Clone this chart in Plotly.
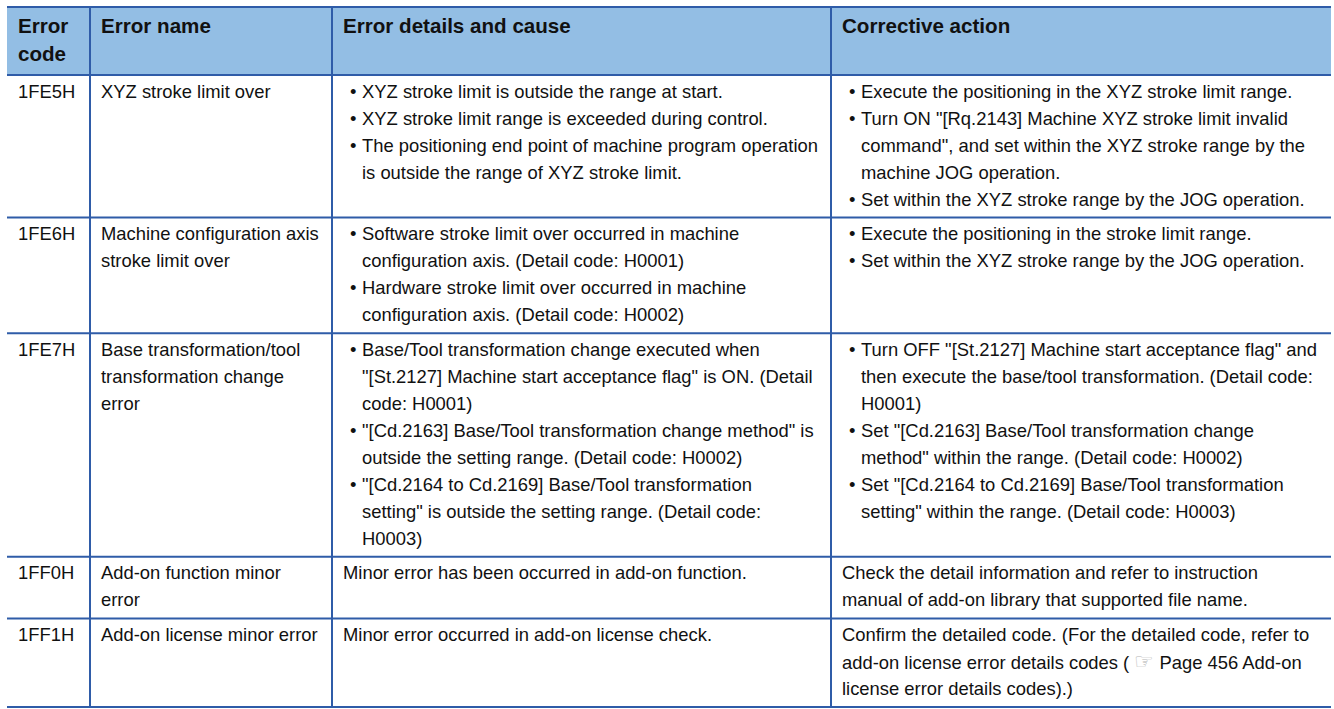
import plotly.graph_objects as go

# ---------------- data ----------------
header_lines = [["Error", "code"], ["Error name"], ["Error details and cause"], ["Corrective action"]]

codes = ["1FE5H", "1FE6H", "1FE7H", "1FF0H", "1FF1H"]

names = [
    ["XYZ stroke limit over"],
    ["Machine configuration axis", "stroke limit over"],
    ["Base transformation/tool", "transformation change", "error"],
    ["Add-on function minor", "error"],
    ["Add-on license minor error"],
]

bulleted = [True, True, True, False, False]

details = [
    [["XYZ stroke limit is outside the range at start."],
     ["XYZ stroke limit range is exceeded during control."],
     ["The positioning end point of machine program operation",
      "is outside the range of XYZ stroke limit."]],
    [["Software stroke limit over occurred in machine",
      "configuration axis. (Detail code: H0001)"],
     ["Hardware stroke limit over occurred in machine",
      "configuration axis. (Detail code: H0002)"]],
    [["Base/Tool transformation change executed when",
      "\"[St.2127] Machine start acceptance flag\" is ON. (Detail",
      "code: H0001)"],
     ["\"[Cd.2163] Base/Tool transformation change method\" is",
      "outside the setting range. (Detail code: H0002)"],
     ["\"[Cd.2164 to Cd.2169] Base/Tool transformation",
      "setting\" is outside the setting range. (Detail code:",
      "H0003)"]],
    [["Minor error has been occurred in add-on function."]],
    [["Minor error occurred in add-on license check."]],
]

actions = [
    [["Execute the positioning in the XYZ stroke limit range."],
     ["Turn ON \"[Rq.2143] Machine XYZ stroke limit invalid",
      "command\", and set within the XYZ stroke range by the",
      "machine JOG operation."],
     ["Set within the XYZ stroke range by the JOG operation."]],
    [["Execute the positioning in the stroke limit range."],
     ["Set within the XYZ stroke range by the JOG operation."]],
    [["Turn OFF \"[St.2127] Machine start acceptance flag\" and",
      "then execute the base/tool transformation. (Detail code:",
      "H0001)"],
     ["Set \"[Cd.2163] Base/Tool transformation change",
      "method\" within the range. (Detail code: H0002)"],
     ["Set \"[Cd.2164 to Cd.2169] Base/Tool transformation",
      "setting\" within the range. (Detail code: H0003)"]],
    [["Check the detail information and refer to instruction",
      "manual of add-on library that supported file name."]],
    [["Confirm the detailed code. (For the detailed code, refer to",
      "add-on license error details codes ( <span style='color:#b4b4b4;font-size:22px'>\u261e</span> Page 456 Add-on",
      "license error details codes).)"]],
]

# ---------------- layout / style ----------------
W, H = 1334, 709
col_edges = [7, 90, 332, 831, 1331]
table_top = 7
header_h = 68
header_line_h = 28
header_first = 18
line_h = 27
row_pad = 7.6
first_off = 16
pad_x = 11
bullet_dx = 18
bullet_text_dx = 30

FONT = "Liberation Sans, Arial, Helvetica, sans-serif"
body_size = 18.4
head_size = 20.6
text_color = "#111111"
border_color = "#2f5ca8"
header_fill = "#93bee4"

fig = go.Figure()
shapes = []
annotations = []

def add_text(x, y, txt, size, bold=False):
    annotations.append(dict(
        x=x, y=y, xref="x", yref="y", text=("<b>%s</b>" % txt) if bold else txt,
        showarrow=False, xanchor="left", yanchor="middle",
        font=dict(family=FONT, size=size, color=text_color),
        borderpad=0, borderwidth=0,
    ))

# header
header_bottom = table_top + header_h
shapes.append(dict(type="rect", xref="x", yref="y", x0=col_edges[0], x1=col_edges[-1],
                   y0=table_top, y1=header_bottom, fillcolor=header_fill, line=dict(width=0),
                   layer="below"))
for c, lines in enumerate(header_lines):
    for i, ln in enumerate(lines):
        add_text(col_edges[c] + pad_x, table_top + header_first + i * header_line_h, ln, head_size, bold=True)

# body rows
row_edges = [table_top, header_bottom]
y = header_bottom
for r in range(len(codes)):
    cells = [[[codes[r]]], [names[r]], details[r], actions[r]]
    n_lines = max(sum(len(item) for item in cell) for cell in cells)
    for c, cell in enumerate(cells):
        k = 0
        for item in cell:
            for j, ln in enumerate(item):
                yy = y + first_off + k * line_h
                if c >= 2 and bulleted[r]:
                    if j == 0:
                        add_text(col_edges[c] + bullet_dx, yy, "\u2022", body_size)
                    add_text(col_edges[c] + bullet_text_dx, yy, ln, body_size)
                else:
                    add_text(col_edges[c] + pad_x, yy, ln, body_size)
                k += 1
    y = y + n_lines * line_h + row_pad
    row_edges.append(y)

# borders
for ye in row_edges:
    shapes.append(dict(type="line", xref="x", yref="y", x0=col_edges[0], x1=col_edges[-1],
                       y0=ye, y1=ye, line=dict(color=border_color, width=2)))
for xe in col_edges[1:-1]:
    shapes.append(dict(type="line", xref="x", yref="y", x0=xe, x1=xe,
                       y0=row_edges[0], y1=row_edges[-1], line=dict(color=border_color, width=2)))

fig.update_layout(
    width=W, height=H,
    margin=dict(l=0, r=0, t=0, b=0),
    paper_bgcolor="white", plot_bgcolor="white",
    xaxis=dict(range=[0, W], visible=False, fixedrange=True),
    yaxis=dict(range=[H, 0], visible=False, fixedrange=True),
    shapes=shapes, annotations=annotations,
    showlegend=False,
)

fig.write_html("out.html", config={"displayModeBar": False},
               post_script="document.body.style.margin='0';document.body.style.overflow='hidden';")
